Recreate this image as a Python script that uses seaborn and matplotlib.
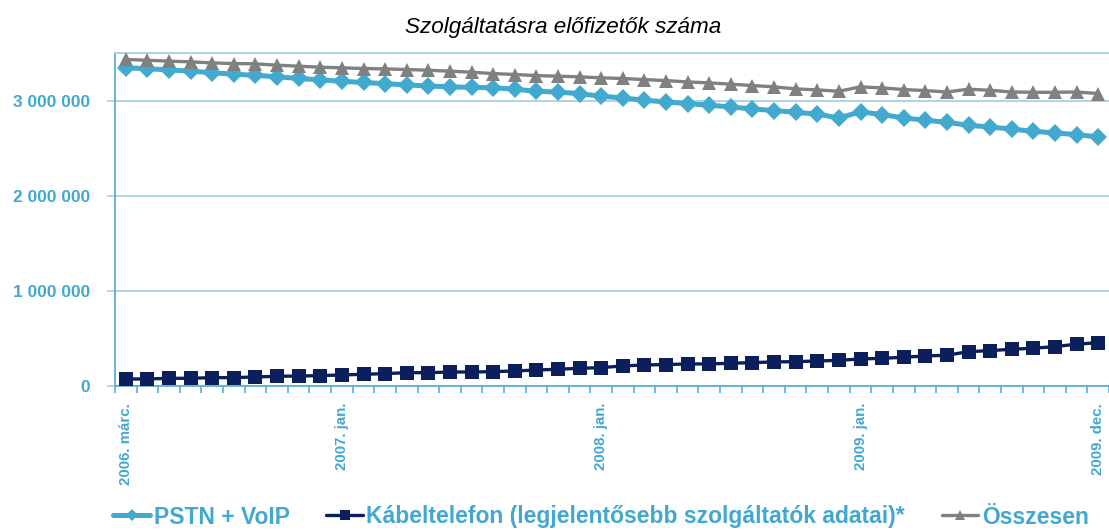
import matplotlib
matplotlib.use("Agg")
import matplotlib.pyplot as plt
from matplotlib.lines import Line2D
from matplotlib.ticker import FixedLocator, FuncFormatter
import numpy as np
import pandas as pd
import seaborn as sns

# ---------------- data ----------------
hu_months = ["jan.", "febr.", "márc.", "ápr.", "máj.", "jún.", "júl.", "aug.",
             "szept.", "okt.", "nov.", "dec."]
periods = [f"{y}. {m}" for y in (2006, 2007, 2008, 2009)
           for i, m in enumerate(hu_months) if not (y == 2006 and i < 2)]

shown_ticks = ["2006. márc.", "2007. jan.", "2008. jan.", "2009. jan.", "2009. dec."]

pstn_voip = [3345000, 3335000, 3322000, 3310000, 3293000, 3277000, 3265000, 3250000, 3232000, 3218000,
             3202000, 3190000, 3178000, 3164000, 3153000, 3145000, 3138000, 3135000, 3120000, 3097000,
             3090000, 3072000, 3046000, 3028000, 3003000, 2986000, 2968000, 2951000, 2933000, 2912000,
             2895000, 2877000, 2857000, 2818000, 2881000, 2853000, 2818000, 2793000, 2772000, 2740000,
             2723000, 2700000, 2677000, 2660000, 2642000, 2618000]

kabeltelefon = [74000, 74000, 81000, 81000, 88000, 88000, 95000, 102000, 105000, 109000,
                116000, 123000, 130000, 140000, 140000, 147000, 147000, 151000, 158000, 168000,
                176000, 186000, 193000, 211000, 221000, 225000, 232000, 232000, 239000, 246000,
                253000, 256000, 263000, 270000, 284000, 291000, 302000, 316000, 323000, 361000,
                372000, 386000, 397000, 414000, 439000, 456000]

osszesen = [3432000, 3424000, 3414000, 3407000, 3396000, 3389000, 3386000, 3372000, 3361000, 3351000,
            3344000, 3337000, 3333000, 3326000, 3319000, 3309000, 3298000, 3284000, 3274000, 3263000,
            3256000, 3249000, 3239000, 3232000, 3221000, 3210000, 3196000, 3186000, 3172000, 3158000,
            3144000, 3123000, 3112000, 3098000, 3144000, 3133000, 3116000, 3105000, 3090000, 3120000,
            3108000, 3090000, 3087000, 3087000, 3090000, 3074000]

series_names = ["PSTN + VoIP", "Kábeltelefon (legjelentősebb szolgáltatók adatai)*", "Összesen"]

title = "Szolgáltatásra előfizetők száma"

# ---------------- style ----------------
sns.set_theme(style="white")
plt.rcParams["font.family"] = ["Liberation Sans", "DejaVu Sans"]

c_text = "#42A8CF"
c_pstn = "#42A9CF"
c_cable = "#0B1F5C"
c_total = "#808080"
c_grid = "#A9D0E2"
c_axis = "#5AAFD3"

df = pd.DataFrame({"idx": np.arange(len(periods)), "period": periods,
                   "pstn": pstn_voip, "cable": kabeltelefon, "total": osszesen})

fig = plt.figure(figsize=(11.09, 5.30), dpi=100)
ax = fig.add_axes([115 / 1109, 1 - 386 / 530, 1 - 115 / 1109, (386 - 53) / 530])

sns.lineplot(data=df, x="idx", y="pstn", ax=ax, color=c_pstn, lw=3.6,
             marker="D", markersize=9.5, markeredgewidth=0, zorder=3)
sns.lineplot(data=df, x="idx", y="cable", ax=ax, color=c_cable, lw=2.4,
             marker="s", markersize=10, markeredgewidth=0, zorder=3)
sns.lineplot(data=df, x="idx", y="total", ax=ax, color=c_total, lw=2.4,
             marker="^", markersize=10.5, markeredgewidth=0, zorder=3)

ax.set_xlim(-0.5, len(periods) - 0.5)
ax.set_ylim(0, 3500000)
ax.set_xlabel("")
ax.set_ylabel("")

# y axis
ax.yaxis.set_major_locator(FixedLocator([0, 1000000, 2000000, 3000000]))
ax.yaxis.set_major_formatter(FuncFormatter(lambda v, p: f"{int(v):,}".replace(",", " ")))
ax.yaxis.grid(True, color=c_grid, lw=1.3)
ax.set_axisbelow(True)
ax.tick_params(axis="y", which="major", direction="out", length=6, width=1.2,
               color=c_grid, labelcolor=c_text, labelsize=12.5, pad=12, left=True)
for lab in ax.get_yticklabels():
    lab.set_fontweight("bold")

# x axis
tick_pos = [periods.index(t) for t in shown_ticks]
ax.xaxis.set_major_locator(FixedLocator(tick_pos))
ax.set_xticklabels(shown_ticks, rotation=90, fontweight="bold", color=c_text,
                   fontsize=10.8, va="top", ha="center")
ax.xaxis.set_minor_locator(FixedLocator(np.arange(-0.5, len(periods), 1.0)))
ax.tick_params(axis="x", which="major", length=0, pad=12)
ax.tick_params(axis="x", which="minor", direction="out", length=5, width=1.2,
               color=c_axis, bottom=True)

for side in ("left", "bottom"):
    ax.spines[side].set_color(c_axis)
    ax.spines[side].set_linewidth(1.3)
ax.spines["top"].set_color(c_grid)
ax.spines["top"].set_linewidth(1.3)
ax.spines["right"].set_visible(False)

# title
fig.text(563 / 1109, 1 - 27 / 530, title, ha="center", va="center",
         fontsize=16.2, style="italic", color="black")

# legend
handles = [
    Line2D([], [], color=c_pstn, lw=3.6, marker="D", markersize=6, markeredgewidth=0),
    Line2D([], [], color=c_cable, lw=2.4, marker="s", markersize=7, markeredgewidth=0),
    Line2D([], [], color=c_total, lw=2.4, marker="^", markersize=7.5, markeredgewidth=0),
]
leg = fig.legend(handles, series_names, loc="center", ncol=3,
                 bbox_to_anchor=(601 / 1109, 1 - 517 / 530), frameon=False,
                 prop={"weight": "bold", "size": 16.5}, labelcolor=c_text,
                 handlelength=1.6, handletextpad=0.15, columnspacing=1.6,
                 borderpad=0, borderaxespad=0)

fig.savefig("out.png", dpi=100)
